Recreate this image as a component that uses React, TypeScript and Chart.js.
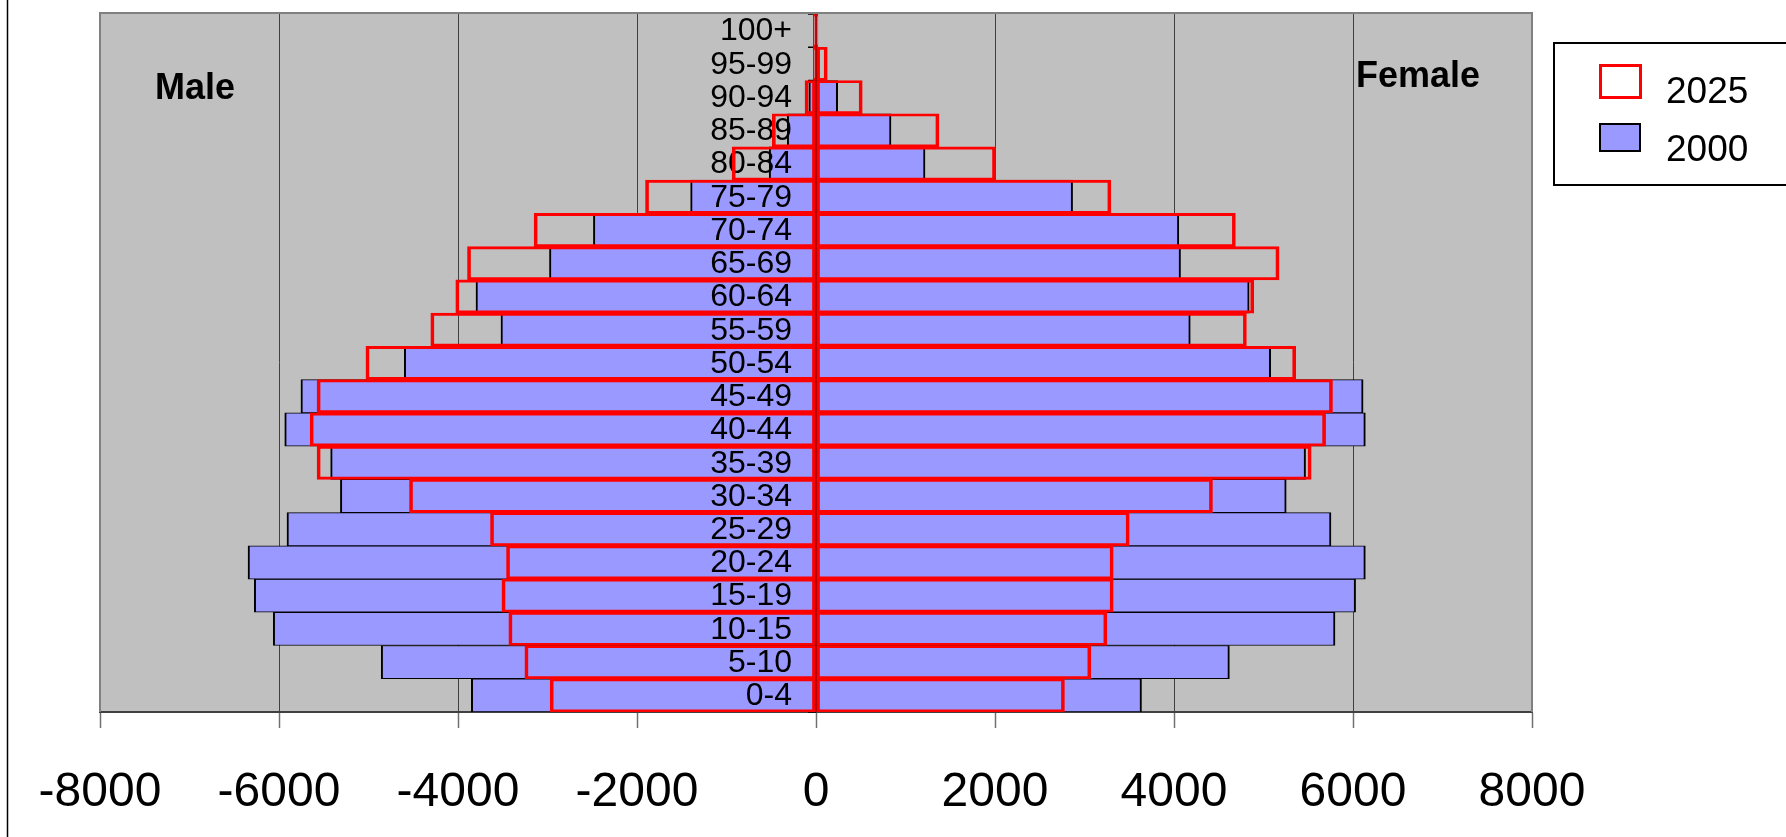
import React, { useEffect, useRef } from "react";
import { Chart, registerables } from "chart.js";

Chart.register(...registerables);

// ---- data ----
const ageGroups = ["0-4", "5-10", "10-15", "15-19", "20-24", "25-29", "30-34", "35-39", "40-44", "45-49", "50-54", "55-59", "60-64", "65-69", "70-74", "75-79", "80-84", "85-89", "90-94", "95-99", "100+"];
const male2000 = [3851, 4858, 6064, 6276, 6346, 5911, 5314, 5423, 5936, 5755, 4600, 3520, 3799, 2978, 2487, 1401, 523, 321, 80, 10, 3];
const female2000 = [3637, 4619, 5799, 6029, 6138, 5754, 5254, 5470, 6138, 6113, 5080, 4182, 4840, 4073, 4054, 2867, 1218, 838, 242, 37, 5];
const male2025 = [2970, 3253, 3432, 3509, 3458, 3637, 4542, 5575, 5652, 5575, 5029, 4304, 4025, 3894, 3150, 1905, 937, 488, 123, 30, 30];
const female2025 = [2776, 3071, 3250, 3321, 3321, 3500, 4430, 5533, 5694, 5771, 5360, 4809, 4892, 5174, 4686, 3295, 2006, 1374, 517, 126, 22];
const xTickValues = [-8000, -6000, -4000, -2000, 0, 2000, 4000, 6000, 8000];
const seriesNames = ["2025", "2000"];
const sideLabels = ["Male", "Female"];

const FONT = '"Liberation Sans", Arial, Helvetica, sans-serif';
const BLUE = "#9999FF";
const RED = "#FF0000";

const decorPlugin = {
  id: "decor",
  beforeDraw(chart: any) {
    const { ctx, chartArea: a } = chart;
    ctx.save();
    ctx.fillStyle = "#FFFFFF";
    ctx.fillRect(0, 0, chart.width, chart.height);
    ctx.fillStyle = "#C0C0C0";
    ctx.fillRect(a.left, a.top, a.right - a.left, a.bottom - a.top);
    ctx.strokeStyle = "#000000";
    ctx.lineWidth = 1.5;
    ctx.beginPath();
    ctx.moveTo(7.5, 0);
    ctx.lineTo(7.5, chart.height);
    ctx.stroke();
    ctx.restore();
  },
  afterDatasetDraw(chart: any, args: any) {
    if (args.index !== 2) return;
    const { ctx } = chart;
    const xs = chart.scales.x;
    const ys = chart.scales.y;
    const zx = xs.getPixelForValue(0);
    ctx.save();
    // category axis line and tick marks at zero
    ctx.strokeStyle = "#000000";
    ctx.lineWidth = 1.5;
    ctx.beginPath();
    ctx.moveTo(zx, chart.chartArea.top);
    ctx.lineTo(zx, chart.chartArea.bottom);
    ctx.stroke();
    const n = ageGroups.length;
    const bounds: number[] = [];
    for (let i = 0; i < n - 1; i++) {
      bounds.push((ys.getPixelForValue(i) + ys.getPixelForValue(i + 1)) / 2);
    }
    bounds.push(chart.chartArea.top);
    bounds.push(chart.chartArea.bottom);
    ctx.beginPath();
    bounds.forEach((b) => {
      ctx.moveTo(zx - 8, b);
      ctx.lineTo(zx, b);
    });
    ctx.stroke();
    // category labels
    ctx.fillStyle = "#000000";
    ctx.font = `32px ${FONT}`;
    ctx.textAlign = "right";
    ctx.textBaseline = "middle";
    ageGroups.forEach((g, i) => {
      ctx.fillText(g, zx - 24, ys.getPixelForValue(i) + 1);
    });
    ctx.restore();
  },
  afterDraw(chart: any) {
    const { ctx, chartArea: a } = chart;
    ctx.save();
    // plot border (top, left, right)
    ctx.strokeStyle = "#808080";
    ctx.lineWidth = 2;
    ctx.beginPath();
    ctx.moveTo(a.left, a.bottom);
    ctx.lineTo(a.left, a.top - 1);
    ctx.lineTo(a.right, a.top - 1);
    ctx.lineTo(a.right, a.bottom);
    ctx.stroke();
    // side labels
    ctx.fillStyle = "#000000";
    ctx.font = `bold 36px ${FONT}`;
    ctx.textAlign = "left";
    ctx.textBaseline = "alphabetic";
    ctx.fillText(sideLabels[0], 155, 99);
    ctx.fillText(sideLabels[1], 1356, 87);
    // legend
    ctx.fillStyle = "#FFFFFF";
    ctx.fillRect(1554, 43, 240, 142);
    ctx.strokeStyle = "#000000";
    ctx.lineWidth = 2;
    ctx.strokeRect(1554, 43, 240, 142);
    ctx.strokeStyle = RED;
    ctx.lineWidth = 3;
    ctx.strokeRect(1600.5, 65.5, 40, 32);
    ctx.fillStyle = BLUE;
    ctx.fillRect(1600, 124, 40, 27);
    ctx.strokeStyle = "#000000";
    ctx.lineWidth = 2;
    ctx.strokeRect(1600, 124, 40, 27);
    ctx.fillStyle = "#000000";
    ctx.font = `37px ${FONT}`;
    ctx.fillText(seriesNames[0], 1666, 103);
    ctx.fillText(seriesNames[1], 1666, 160.5);
    ctx.restore();
  },
};

export default function App() {
  const canvasRef = useRef<HTMLCanvasElement | null>(null);

  useEffect(() => {
    const canvas = canvasRef.current;
    if (!canvas) return;
    const common = {
      grouped: false,
      barPercentage: 1,
      categoryPercentage: 1,
      borderSkipped: false,
    };
    const chart = new Chart(canvas, {
      type: "bar",
      data: {
        labels: ageGroups,
        datasets: [
          {
            ...common,
            label: "2025 Male",
            data: male2025.map((v) => -v),
            backgroundColor: "rgba(0,0,0,0)",
            borderColor: RED,
            borderWidth: { top: 2.2, bottom: 2.2, left: 3, right: 3 },
          },
          {
            ...common,
            label: "2025 Female",
            data: female2025,
            backgroundColor: "rgba(0,0,0,0)",
            borderColor: RED,
            borderWidth: { top: 2.2, bottom: 2.2, left: 3, right: 3 },
          },
          {
            ...common,
            label: "2000 Male",
            data: male2000.map((v) => -v),
            backgroundColor: BLUE,
            borderColor: "#000000",
            borderWidth: { top: 1, bottom: 1, left: 2, right: 2 },
          },
          {
            ...common,
            label: "2000 Female",
            data: female2000,
            backgroundColor: BLUE,
            borderColor: "#000000",
            borderWidth: { top: 1, bottom: 1, left: 2, right: 2 },
          },
        ],
      } as any,
      options: {
        indexAxis: "y",
        animation: false,
        responsive: false,
        devicePixelRatio: 1,
        layout: { padding: { left: 100, right: 254, top: 14, bottom: 20 } },
        plugins: {
          legend: { display: false },
          tooltip: { enabled: false },
        },
        scales: {
          x: {
            type: "linear",
            min: -8000,
            max: 8000,
            afterBuildTicks: (scale: any) => {
              scale.ticks = xTickValues.map((v) => ({ value: v }));
            },
            afterFit: (scale: any) => {
              scale.height = 105;
            },
            ticks: {
              font: { family: FONT, size: 48 },
              color: "#000000",
              padding: 36,
              maxRotation: 0,
              autoSkip: false,
              callback: (v: any) => String(v),
            },
            grid: {
              color: (c: any) => {
                const v = c.tick ? c.tick.value : 0;
                if (Math.abs(v) === 8000) return "rgba(0,0,0,0)";
                return "#404040";
              },
              lineWidth: 1,
              tickLength: 16,
              tickColor: "#707070",
              tickWidth: 1.5,
            },
            border: { display: true, color: "#404040", width: 2 },
          },
          y: {
            type: "category",
            reverse: true,
            display: false,
          },
        },
      } as any,
      plugins: [decorPlugin],
    });
    return () => chart.destroy();
  }, []);

  return (
    <div style={{ position: "fixed", left: 0, top: 0, width: 1786, height: 837, background: "#fff" }}>
      <canvas ref={canvasRef} width={1786} height={837} style={{ display: "block", width: 1786, height: 837 }} />
    </div>
  );
}
